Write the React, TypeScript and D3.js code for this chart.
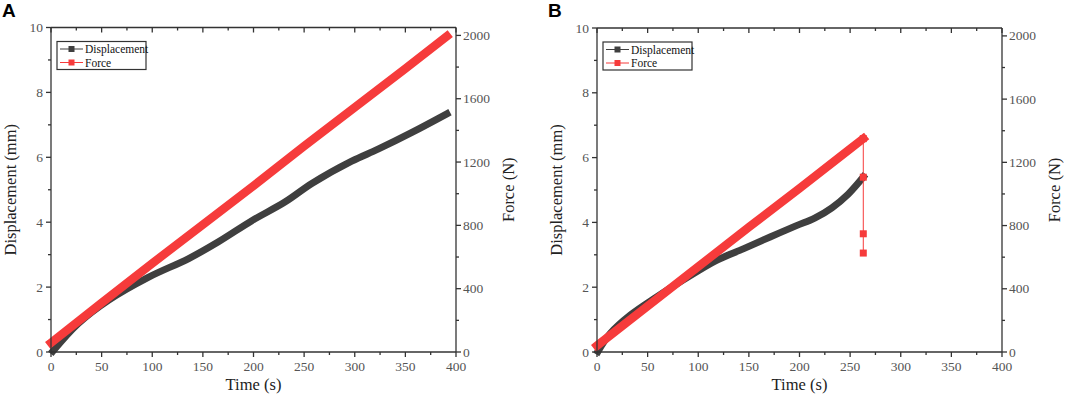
import * as d3 from 'd3';

// tick values
const timeTicks = [0, 50, 100, 150, 200, 250, 300, 350, 400];
const dispTicks = [0, 2, 4, 6, 8, 10];
const forceTicks = [0, 400, 800, 1200, 1600, 2000];

// panel A
const aDispTime = [2, 27, 57, 96, 136, 165, 198, 231, 258, 297, 323, 356, 391];
const aDisp = [0.03, 0.88, 1.6, 2.3, 2.88, 3.39, 4.04, 4.62, 5.2, 5.88, 6.25, 6.76, 7.34];
const aForceTime = [0, 50, 100, 150, 200, 250, 300, 350, 391];
const aForce = [58, 310, 560, 805, 1050, 1300, 1545, 1790, 1995];

// panel B (force drops after the peak)
const bDispTime = [1, 13, 33, 59, 85, 118, 145, 171, 197, 215, 232, 248, 263];
const bDisp = [0.02, 0.57, 1.14, 1.7, 2.22, 2.83, 3.19, 3.55, 3.9, 4.13, 4.45, 4.87, 5.4];
const bForceTime = [0, 50, 100, 150, 200, 250, 263, 263, 263, 263];
const bForce = [40, 290, 540, 790, 1035, 1285, 1350, 1106, 748, 626];

const RED = '#f63b3b';
const DARK = '#3f3f3f';
const AXIS = '#333';
const SERIF = '"Liberation Serif", "Times New Roman", serif';

type PanelProps = {
  label: string;
  left: number;
  right: number;
  top: number;
  bottom: number;
  dispT: number[];
  disp: number[];
  forceT: number[];
  force: number[];
  peak: number; // index where the thick band stops
};

const Panel = ({ label, left, right, top, bottom, dispT, disp, forceT, force, peak }: PanelProps) => {
  const x = d3.scaleLinear().domain([0, 400]).range([left, right]);
  const y = d3.scaleLinear().domain([0, 10]).range([bottom, top]);
  const yF = d3.scaleLinear().domain([0, 2050]).range([bottom, top]);

  const dispLine = d3
    .line<number>()
    .x((_, i) => x(dispT[i]))
    .y((d) => y(d))
    .curve(d3.curveCatmullRom.alpha(0.5));

  const bandIdx = force.map((_, i) => i).filter((i) => i <= peak);
  const tailIdx = force.map((_, i) => i).filter((i) => i >= peak);
  const forceLine = d3
    .line<number>()
    .x((i) => x(forceT[i]))
    .y((i) => yF(force[i]));

  const minorT = d3.range(0, 401, 25);
  const minorD = d3.range(0, 11, 1);
  const minorF = d3.range(0, 2001, 200);
  const midY = (top + bottom) / 2;
  const lgX = left + 6;
  const lgY = top + 14;

  return (
    <g>
      <text x={left - 49} y={17} fontFamily='"Liberation Sans", Arial, sans-serif' fontWeight="bold" fontSize={19}>
        {label}
      </text>

      {/* series */}
      <path d={dispLine(disp) ?? ''} fill="none" stroke={DARK} strokeWidth={7} strokeLinecap="square" strokeLinejoin="round" />
      <path d={forceLine(bandIdx) ?? ''} fill="none" stroke={RED} strokeWidth={8.5} strokeLinecap="square" />
      {tailIdx.length > 1 && (
        <>
          <path d={forceLine(tailIdx) ?? ''} fill="none" stroke={RED} strokeWidth={1} />
          {tailIdx.map((i) => (
            <rect key={i} x={x(forceT[i]) - 3.5} y={yF(force[i]) - 3.5} width={7} height={7} fill={RED} />
          ))}
        </>
      )}

      {/* frame */}
      <g stroke={AXIS} strokeWidth={1.3} fill="none">
        <line x1={left} x2={right} y1={bottom} y2={bottom} />
        <line x1={left} x2={right} y1={top} y2={top} />
        <line x1={left} x2={left} y1={top} y2={bottom} />
        <line x1={right} x2={right} y1={top} y2={bottom} />
        {minorT.map((t) => {
          const major = t % 50 === 0;
          return (
            <g key={'t' + t}>
              <line x1={x(t)} x2={x(t)} y1={bottom} y2={bottom + (major ? 5 : 3)} />
              <line x1={x(t)} x2={x(t)} y1={top} y2={top + (major ? 5 : 3)} />
            </g>
          );
        })}
        {minorD.map((d) => (
          <line key={'d' + d} x1={left} x2={left - (d % 2 === 0 ? 5 : 3)} y1={y(d)} y2={y(d)} />
        ))}
        {minorF.map((f) => (
          <line key={'f' + f} x1={right} x2={right + (f % 400 === 0 ? 5 : 3)} y1={yF(f)} y2={yF(f)} />
        ))}
      </g>

      {/* tick labels */}
      <g fontFamily={SERIF} fontSize={13.5} fill="#555">
        {timeTicks.map((t) => (
          <text key={t} x={x(t)} y={bottom + 19} textAnchor="middle">
            {t}
          </text>
        ))}
        {dispTicks.map((d) => (
          <text key={d} x={left - 8} y={y(d) + 4.5} textAnchor="end">
            {d}
          </text>
        ))}
        {forceTicks.map((f) => (
          <text key={f} x={right + 7} y={yF(f) + 4.5} textAnchor="start">
            {f}
          </text>
        ))}
      </g>

      {/* axis titles */}
      <g fontFamily={SERIF} fontSize={16.5} fill="#222">
        <text x={(left + right) / 2} y={bottom + 38} textAnchor="middle">
          Time (s)
        </text>
        <text transform={`translate(${left - 35},${midY}) rotate(-90)`} textAnchor="middle">
          Displacement (mm)
        </text>
        <text transform={`translate(${right + 58},${midY}) rotate(-90)`} textAnchor="middle">
          Force (N)
        </text>
      </g>

      {/* legend */}
      <g>
        <rect x={lgX} y={lgY} width={89} height={28} fill="#fff" stroke={AXIS} strokeWidth={1.2} />
        <line x1={lgX + 3} x2={lgX + 26} y1={lgY + 7.5} y2={lgY + 7.5} stroke={DARK} strokeWidth={1} />
        <rect x={lgX + 11.5} y={lgY + 4.5} width={6} height={6} fill={DARK} />
        <line x1={lgX + 3} x2={lgX + 26} y1={lgY + 21} y2={lgY + 21} stroke={RED} strokeWidth={1} />
        <rect x={lgX + 11.5} y={lgY + 18} width={6} height={6} fill={RED} />
        <g fontFamily={SERIF} fontSize={11.5} fill="#111">
          <text x={lgX + 28} y={lgY + 11.5}>Displacement</text>
          <text x={lgX + 28} y={lgY + 25}>Force</text>
        </g>
      </g>
    </g>
  );
};

export default function App() {
  return (
    <svg
      width={1065}
      height={407}
      style={{ position: 'absolute', left: 0, top: 0, background: '#fff' }}
    >
      <Panel
        label="A"
        left={51}
        right={456}
        top={27.5}
        bottom={352}
        dispT={aDispTime}
        disp={aDisp}
        forceT={aForceTime}
        force={aForce}
        peak={aForce.length - 1}
      />
      <Panel
        label="B"
        left={597}
        right={1002}
        top={28}
        bottom={352}
        dispT={bDispTime}
        disp={bDisp}
        forceT={bForceTime}
        force={bForce}
        peak={6}
      />
    </svg>
  );
}
